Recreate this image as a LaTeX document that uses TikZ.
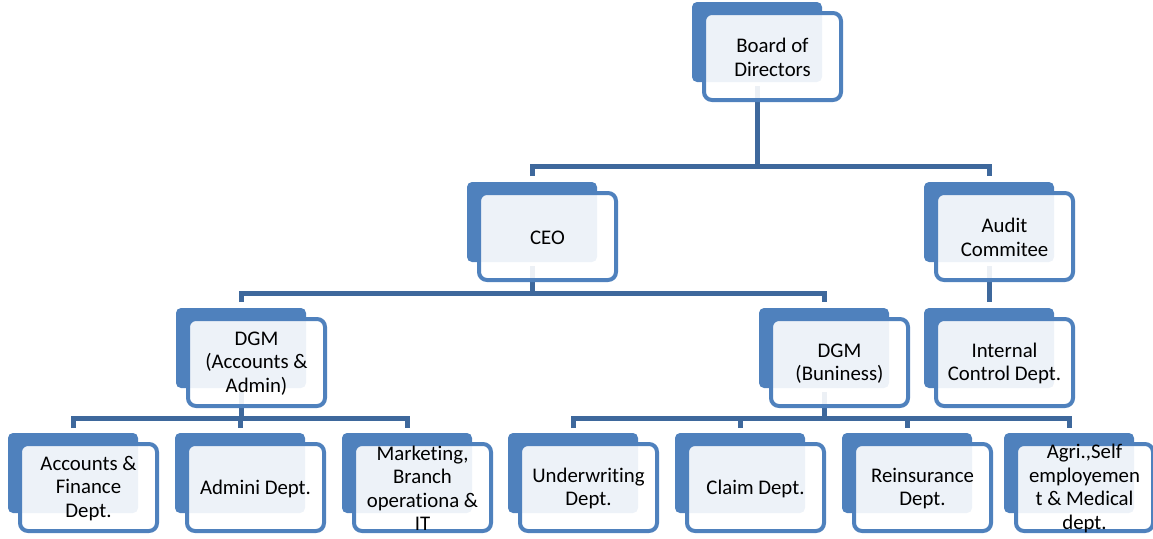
\documentclass[tikz,border=0pt]{standalone}
\usepackage{fontspec}
\setmainfont{Carlito}[Ligatures=NoCommon]
\pgfdeclarelayer{bg}
\pgfsetlayers{bg,main}
\definecolor{boxblue}{RGB}{79,129,189}
\definecolor{connblue}{RGB}{62,104,156}
\tikzset{
  backbox/.style={anchor=north west, minimum width=130pt, minimum height=80pt,
    inner sep=0pt, outer sep=0pt, fill=boxblue, rounded corners=5pt},
  frontbox/.style={anchor=north west, minimum width=137pt, minimum height=87pt,
    inner sep=0pt, outer sep=2pt, line width=4pt, draw=boxblue, fill=white,
    fill opacity=0.9, rounded corners=8pt},
  lbl/.style={align=center, inner sep=0pt, text=black,
    font=\fontsize{20.8}{23.5}\selectfont},
  conn/.style={draw=connblue, line width=5pt, line join=miter}
}
\newcommand\orgnode[3]{%
  \node[backbox] (#1) at (#2) {};
  \node[frontbox] (#1-f) at ([xshift=10pt,yshift=-9pt]#1.north west) {};
  \node[lbl] (#1-t) at ([yshift=-1pt]#1-f.center) {#3};
}
\begin{document}
\begin{tikzpicture}[x=1pt,y=-1pt]
\useasboundingbox (0,0) rectangle (1153,538);
\orgnode{bod}{692,2}{Board of\\Directors}
\orgnode{ceo}{467,182}{CEO}
\orgnode{aud}{924,182}{Audit\\Commitee}
\orgnode{dgma}{176,308}{DGM\\(Accounts \&\\Admin)}
\orgnode{dgmb}{759,308}{DGM\\(Buniness)}
\orgnode{ic}{924,308}{Internal\\Control Dept.}
\orgnode{acc}{8,433}{Accounts \&\\Finance\\Dept.}
\orgnode{adm}{175,433}{Admini Dept.}
\orgnode{mkt}{342,433}{Marketing,\\Branch\\operationa \&\\IT}
\orgnode{und}{508,433}{Underwriting\\Dept.}
\orgnode{clm}{675,433}{Claim Dept.}
\orgnode{rei}{842,433}{Reinsurance\\Dept.}
\orgnode{agr}{1004,433}{Agri.,Self\\employemen\\t \& Medical\\dept.}
\begin{pgfonlayer}{bg}
  % Board -> CEO, Audit
  \draw[conn] ([yshift=-4pt]bod.south) -- (bod.south |- 0,166);
  \draw[conn] ([yshift=6pt]ceo.north) -- (ceo.north |- 0,166) -- (aud.north |- 0,166) -- ([yshift=6pt]aud.north);
  % CEO -> DGMs
  \draw[conn] ([yshift=-4pt]ceo.south) -- (ceo.south |- 0,293);
  \draw[conn] ([yshift=6pt]dgma.north) -- (dgma.north |- 0,293) -- (dgmb.north |- 0,293) -- ([yshift=6pt]dgmb.north);
  % Audit -> Internal Control
  \draw[conn] ([yshift=-4pt]aud.south) -- ([yshift=6pt]ic.north);
  % DGM A&A -> children
  \draw[conn] ([yshift=-4pt]dgma.south) -- (dgma.south |- 0,418);
  \draw[conn] ([yshift=5pt]acc.north) -- (acc.north |- 0,418) -- (mkt.north |- 0,418) -- ([yshift=5pt]mkt.north);
  \draw[conn] (adm.north |- 0,418) -- ([yshift=5pt]adm.north);
  % DGM Business -> children
  \draw[conn] ([yshift=-4pt]dgmb.south) -- (dgmb.south |- 0,418);
  \draw[conn] ([yshift=5pt]und.north) -- (und.north |- 0,418) -- (agr.north |- 0,418) -- ([yshift=5pt]agr.north);
  \draw[conn] (clm.north |- 0,418) -- ([yshift=5pt]clm.north);
  \draw[conn] (rei.north |- 0,418) -- ([yshift=5pt]rei.north);
\end{pgfonlayer}
\end{tikzpicture}
\end{document}
